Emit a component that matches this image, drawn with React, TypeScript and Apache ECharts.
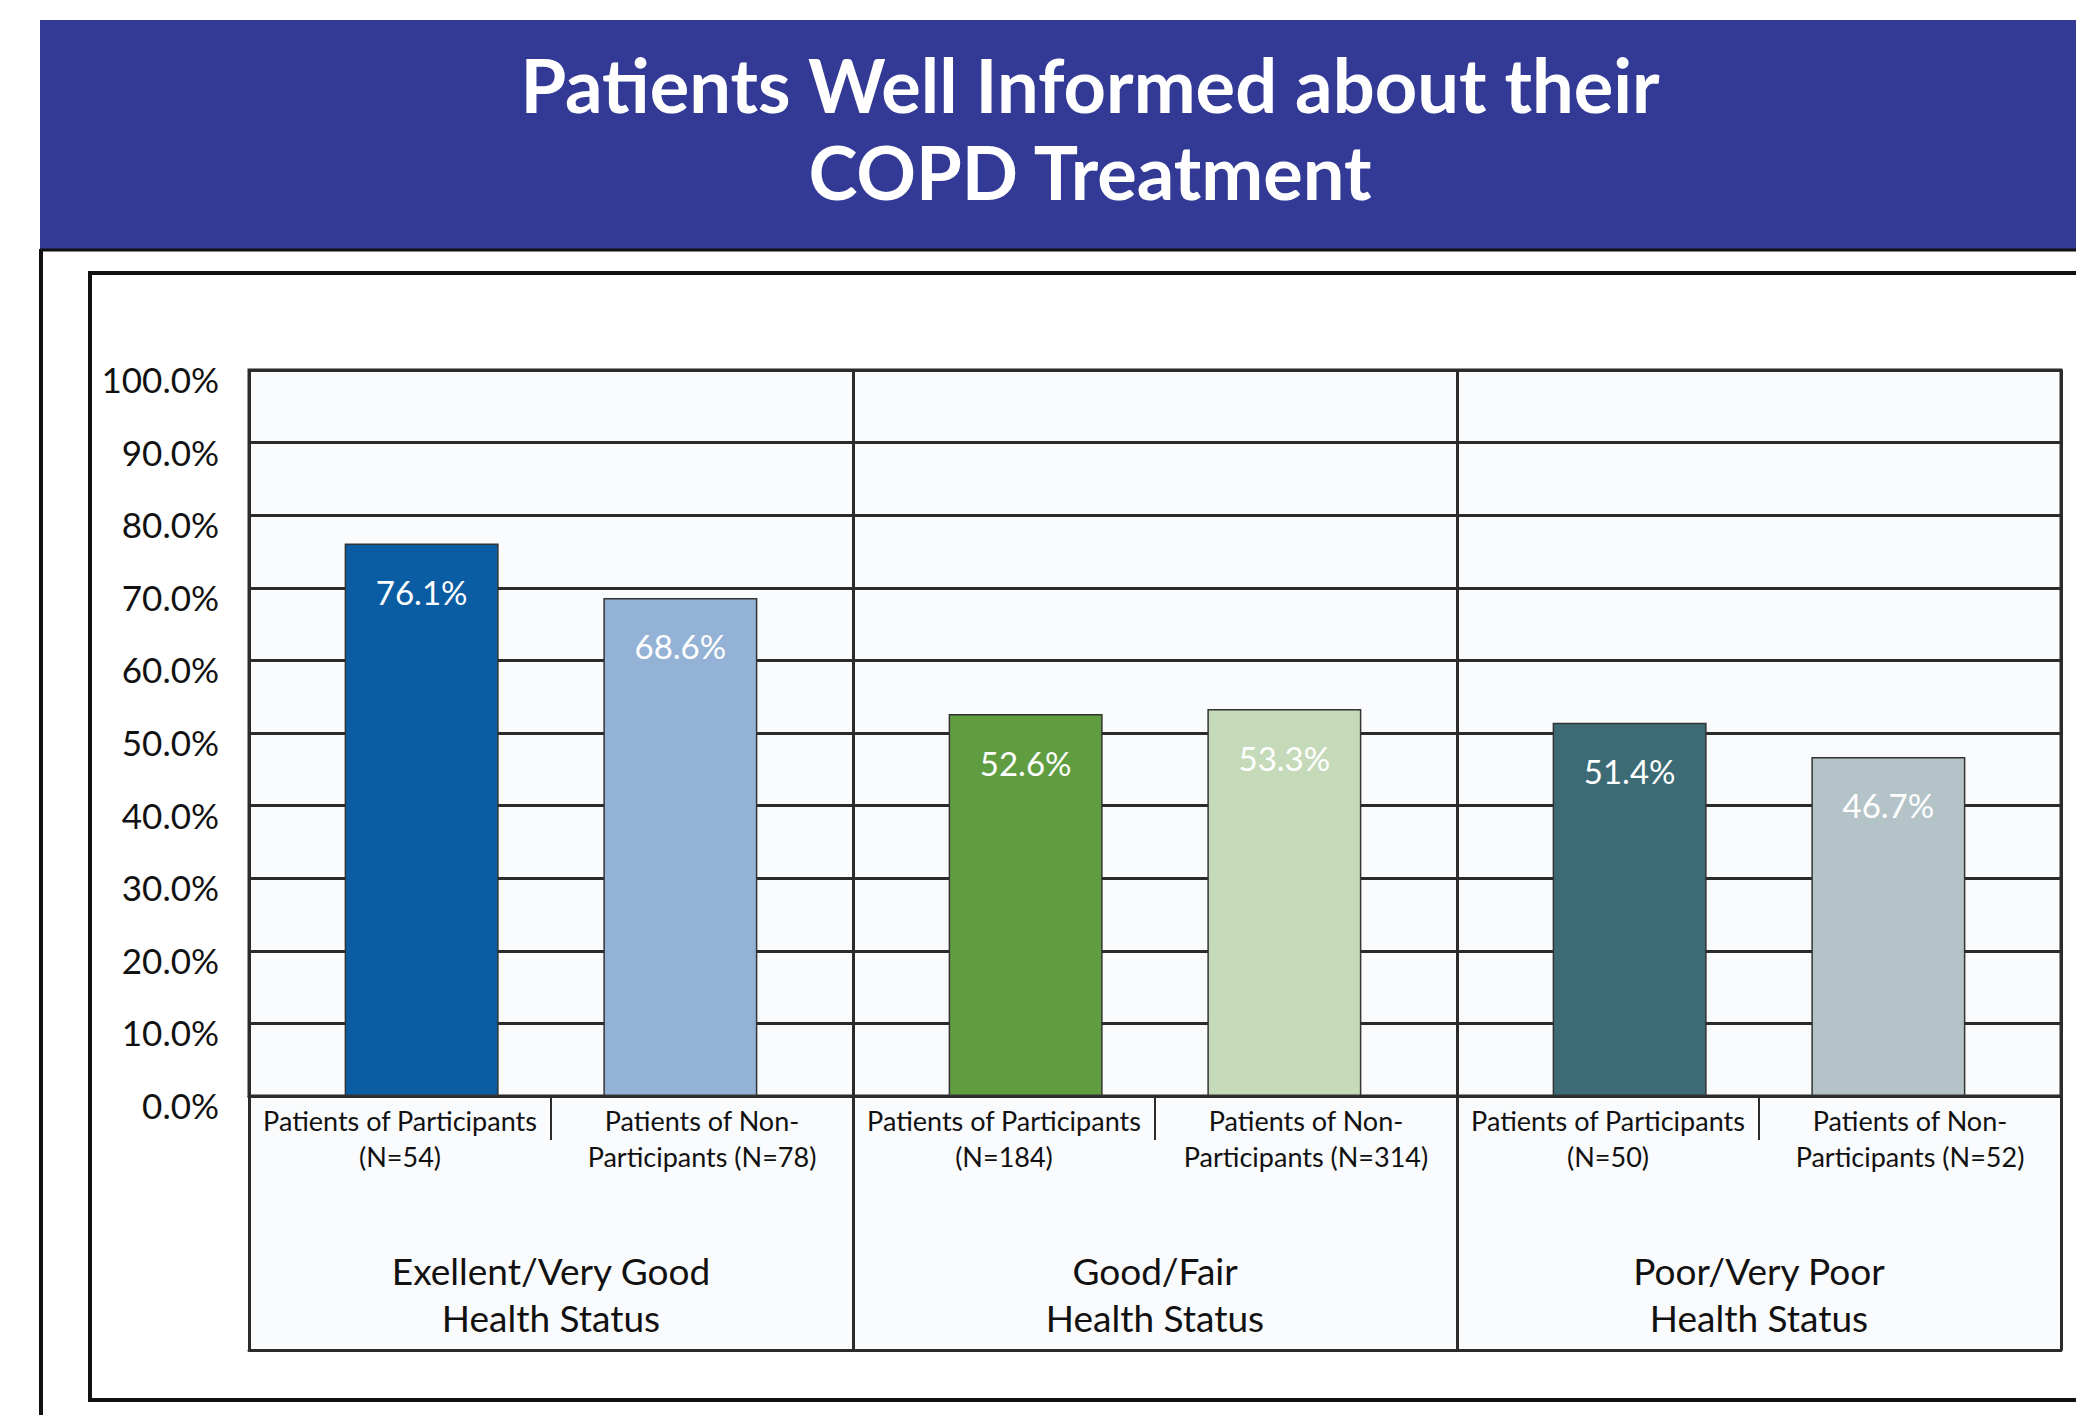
import React, { useEffect, useRef } from "react";
import * as echarts from "echarts";

const titleLines = ["Patients Well Informed about their", "COPD Treatment"];
const groups = [
  "Exellent/Very Good\nHealth Status",
  "Good/Fair\nHealth Status",
  "Poor/Very Poor\nHealth Status",
];
const subLabels = [
  "Patients of Participants\n(N=54)",
  "Patients of Non-\nParticipants (N=78)",
  "Patients of Participants\n(N=184)",
  "Patients of Non-\nParticipants (N=314)",
  "Patients of Participants\n(N=50)",
  "Patients of Non-\nParticipants (N=52)",
];
const participants = [76.1, 52.6, 51.4];
const nonParticipants = [68.6, 53.3, 46.7];
const participantColors = ["#0a5ca3", "#609d41", "#3c6b76"];
const nonParticipantColors = ["#94b2d6", "#c5dab9", "#b4c3c8"];

const FONT = "Lato, 'Open Sans', sans-serif";
const LINE = "#2b2b2b";

export default function App() {
  const ref = useRef<HTMLDivElement>(null);
  useEffect(() => {
    document.body.style.margin = "0";
    const chart = echarts.init(ref.current!, undefined, { renderer: "svg" });
    const mkData = (vals: number[], cols: string[]) =>
      vals.map((v, i) => ({ value: v, itemStyle: { color: cols[i] } }));
    const barLabel = {
      show: true,
      position: "insideTop",
      distance: 32,
      color: "#ffffff",
      fontSize: 33,
      fontFamily: FONT,
      formatter: (p: any) => p.value.toFixed(1) + "%",
    };
    chart.setOption({
      animation: false,
      backgroundColor: "#ffffff",
      textStyle: { fontFamily: FONT },
      graphic: [
        { type: "rect", shape: { x: 40, y: 20, width: 2036, height: 229 }, style: { fill: "#333a96" } },
        { type: "line", shape: { x1: 40, y1: 250, x2: 2076, y2: 250 }, style: { stroke: "#111", lineWidth: 3 } },
        { type: "line", shape: { x1: 41, y1: 249, x2: 41, y2: 1415 }, style: { stroke: "#111", lineWidth: 4 } },
        {
          type: "polyline",
          shape: { points: [[2076, 273], [90, 273], [90, 1400], [2076, 1400]] },
          style: { stroke: "#111", lineWidth: 4, fill: null },
        },
        {
          type: "rect",
          z: -10,
          shape: { x: 249, y: 1096, width: 1812, height: 254 },
          style: { fill: "#fafbfd" },
        },
        {
          type: "text",
          x: 1090,
          y: 84,
          style: {
            text: titleLines[0],
            fill: "#ffffff",
            font: `bold 74px ${FONT}`,
            textAlign: "center",
            textVerticalAlign: "middle",
          },
        },
        {
          type: "text",
          x: 1090,
          y: 171,
          style: {
            text: titleLines[1],
            fill: "#ffffff",
            font: `bold 74px ${FONT}`,
            textAlign: "center",
            textVerticalAlign: "middle",
          },
        },
      ],
      grid: {
        left: 249,
        right: 15,
        top: 370,
        bottom: 319,
        show: true,
        backgroundColor: "#fafbfd",
        borderColor: LINE,
        borderWidth: 3,
      },
      yAxis: {
        type: "value",
        min: 0,
        max: 100,
        interval: 10,
        axisLine: { show: false },
        axisTick: { show: false },
        splitLine: { show: true, lineStyle: { color: LINE, width: 3 } },
        axisLabel: {
          margin: 30,
          fontSize: 35,
          color: "#111",
          fontFamily: FONT,
          verticalAlign: "top",
          lineHeight: 18,
          formatter: (v: number) => v.toFixed(1) + "%",
        },
      },
      xAxis: [
        {
          type: "category",
          data: groups,
          position: "bottom",
          axisLine: { show: true, lineStyle: { color: LINE, width: 3 } },
          axisTick: { show: true, interval: 0, length: 254, lineStyle: { color: LINE, width: 3 } },
          splitLine: { show: true, interval: 0, lineStyle: { color: LINE, width: 3 } },
          axisLabel: {
            interval: 0,
            margin: 151,
            fontSize: 37,
            lineHeight: 47,
            color: "#111",
            fontFamily: FONT,
          },
        },
        {
          type: "category",
          data: subLabels,
          position: "bottom",
          axisLine: { show: false },
          axisTick: {
            show: true,
            interval: (i: number) => i % 2 === 1,
            length: 44,
            lineStyle: { color: LINE, width: 2 },
          },
          splitLine: { show: false },
          axisLabel: {
            interval: 0,
            margin: 6,
            fontSize: 27,
            lineHeight: 36,
            color: "#111",
            fontFamily: FONT,
          },
        },
        {
          type: "category",
          data: groups,
          position: "bottom",
          offset: 254,
          axisLine: { show: true, lineStyle: { color: LINE, width: 3 } },
          axisTick: { show: false },
          axisLabel: { show: false },
          splitLine: { show: false },
        },
      ],
      series: [
        {
          name: "Patients of Participants",
          type: "bar",
          xAxisIndex: 0,
          barWidth: 154,
          barGap: "68%",
          data: mkData(participants, participantColors),
          itemStyle: { borderColor: "#333", borderWidth: 1.5 },
          label: barLabel,
        },
        {
          name: "Patients of Non-Participants",
          type: "bar",
          xAxisIndex: 0,
          barWidth: 154,
          barGap: "68%",
          data: mkData(nonParticipants, nonParticipantColors),
          itemStyle: { borderColor: "#333", borderWidth: 1.5 },
          label: barLabel,
        },
      ],
    });
    return () => chart.dispose();
  }, []);
  return (
    <div
      ref={ref}
      style={{ position: "absolute", left: 0, top: 0, width: 2076, height: 1415 }}
    />
  );
}
